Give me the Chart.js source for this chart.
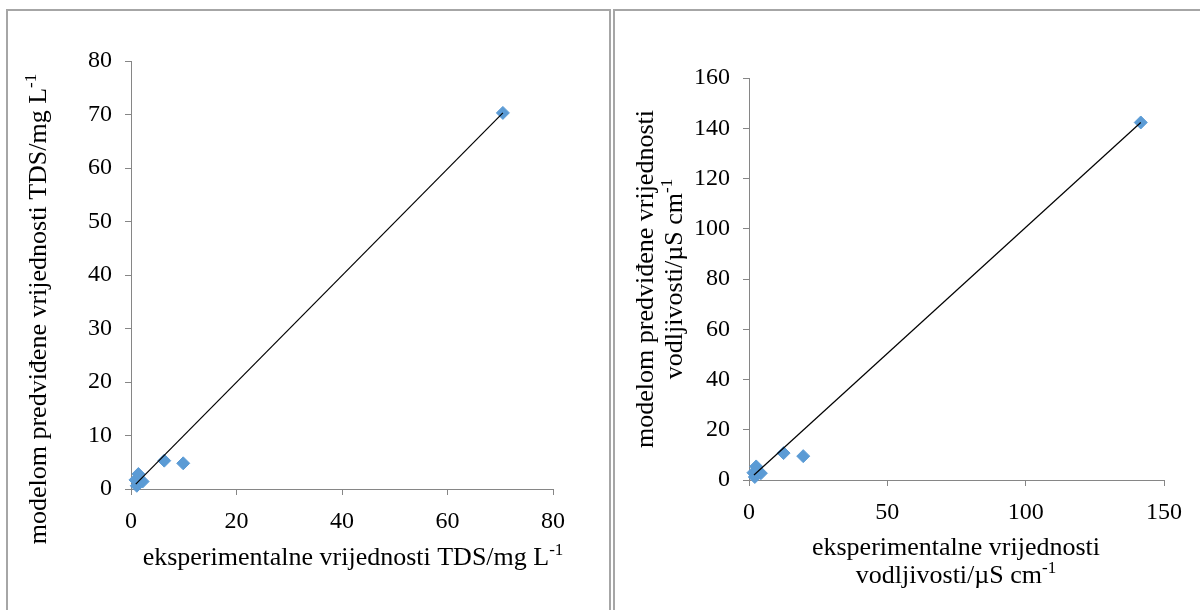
<!DOCTYPE html>
<html><head><meta charset="utf-8">
<script src="https://cdn.jsdelivr.net/npm/chart.js@4"></script>
<style>
html,body{margin:0;padding:0;background:#fff;width:1200px;height:610px;overflow:hidden;}
.box{position:absolute;border:2px solid #a6a6a6;box-sizing:border-box;}
#b1{left:6px;top:9px;width:605px;height:640px;}
#b2{left:613px;top:9px;width:600px;height:640px;}
canvas{position:absolute;}
#c1{left:0;top:0;width:610px;height:610px;}
#c2{left:612px;top:0;width:588px;height:610px;}
</style></head><body>
<div class="box" id="b1"></div><div class="box" id="b2"></div>
<canvas id="c1" width="610" height="610"></canvas>
<canvas id="c2" width="588" height="610"></canvas>
<script>
// ---- data ----
const tdsExp  = [0.85, 1.4, 2.2, 1.1, 1.5, 6.3, 9.9, 70.5];
const tdsPred = [1.7, 2.8, 1.4, 0.6, 1.5, 5.3, 4.8, 70.3];
const tdsLineX = [0.9, 70.5];
const tdsLineY = [0.9, 70.3];
const tdsXTicks = [0, 20, 40, 60, 80];
const tdsYTicks = [0, 10, 20, 30, 40, 50, 60, 70, 80];

const condExp  = [1.6, 2.6, 4.3, 2.1, 3.0, 12.5, 19.6, 141.6];
const condPred = [2.9, 5.4, 2.7, 1.2, 3.2, 10.7, 9.5, 142.3];
const condLineX = [1.8, 141.6];
const condLineY = [2.0, 142.3];
const condXTicks = [0, 50, 100, 150];
const condYTicks = [0, 20, 40, 60, 80, 100, 120, 140, 160];

const tdsXTitle = [[{t:'eksperimentalne vrijednosti TDS/mg L'},{t:'-1',sup:true}]];
const tdsYTitle = [[{t:'modelom predviđene vrijednosti TDS/mg L'},{t:'-1',sup:true}]];
const condXTitle = [[{t:'eksperimentalne vrijednosti'}],[{t:'vodljivosti/µS cm'},{t:'-1',sup:true}]];
const condYTitle = [[{t:'modelom predviđene vrijednosti'}],[{t:'vodljivosti/µS cm'},{t:'-1',sup:true}]];

// ---- helpers ----
const FONT = "'Liberation Serif', 'Times New Roman', serif";
const AXIS_COLOR = '#868686';
const BLUE = '#5B9BD5';

function drawRich(ctx, segs) {
  let total = 0;
  const widths = segs.map(s => {
    ctx.font = (s.sup ? '17px ' : '26px ') + FONT;
    const w = ctx.measureText(s.t).width; total += w; return w;
  });
  let x = -total / 2;
  segs.forEach((s, i) => {
    ctx.font = (s.sup ? '17px ' : '26px ') + FONT;
    ctx.fillText(s.t, x, s.sup ? -10 : 0);
    x += widths[i];
  });
}

const richTitles = {
  id: 'richTitles',
  afterDraw(chart, args, opts) {
    const ctx = chart.ctx;
    (opts.items || []).forEach(it => {
      ctx.save();
      ctx.fillStyle = '#000';
      ctx.textAlign = 'left';
      ctx.textBaseline = 'alphabetic';
      ctx.translate(it.x, it.y);
      if (it.vertical) ctx.rotate(-Math.PI / 2);
      it.lines.forEach((segs, i) => {
        ctx.save();
        ctx.translate(0, i * it.gap);
        drawRich(ctx, segs);
        ctx.restore();
      });
      ctx.restore();
    });
  }
};

function axis(min, max, tickVals, fixed, isX) {
  return {
    type: 'linear', min: min, max: max,
    afterBuildTicks: s => { s.ticks = tickVals.map(v => ({ value: v })); },
    afterFit: s => { if (isX) s.height = fixed; else s.width = fixed; },
    border: { display: true, color: AXIS_COLOR, width: 1 },
    grid: { display: true, drawOnChartArea: false, drawTicks: true, tickLength: 6, color: AXIS_COLOR },
    ticks: { color: '#000', font: { family: FONT, size: 24 }, padding: isX ? 12 : 13,
             maxRotation: 0, autoSkip: false }
  };
}

function makeChart(id, xs, ys, lx, ly, xr, yr, xt, yt, yW, xH, pad, titles) {
  return new Chart(document.getElementById(id), {
    type: 'scatter',
    data: {
      datasets: [
        { type: 'line', data: lx.map((x, i) => ({ x: x, y: ly[i] })), borderColor: '#000',
          borderWidth: 1.2, pointRadius: 0, fill: false, showLine: true, clip: false },
        { data: xs.map((x, i) => ({ x: x, y: ys[i] })), pointStyle: 'rectRot', pointRadius: 6.5,
          backgroundColor: BLUE, borderColor: BLUE, borderWidth: 1, clip: false }
      ]
    },
    options: {
      responsive: false, animation: false, devicePixelRatio: 1,
      layout: { padding: pad },
      plugins: { legend: { display: false }, tooltip: { enabled: false }, richTitles: { items: titles } },
      scales: {
        x: axis(xr[0], xr[1], xt, xH, true),
        y: axis(yr[0], yr[1], yt, yW, false)
      }
    },
    plugins: [richTitles]
  });
}

makeChart('c1', tdsExp, tdsPred, tdsLineX, tdsLineY, [0, 80], [0, 80], tdsXTicks, tdsYTicks,
  131, 121, { left: 0, top: 61, right: 57, bottom: 0 },
  [ { lines: tdsXTitle, x: 353, y: 565, gap: 28, vertical: false },
    { lines: tdsYTitle, x: 46, y: 309, gap: 29, vertical: true } ]);

makeChart('c2', condExp, condPred, condLineX, condLineY, [0, 150], [0, 160], condXTicks, condYTicks,
  137, 130, { left: 0, top: 78, right: 36, bottom: 0 },
  [ { lines: condXTitle, x: 344, y: 555, gap: 28, vertical: false },
    { lines: condYTitle, x: 41, y: 279, gap: 29, vertical: true } ]);
</script>
</body></html>
